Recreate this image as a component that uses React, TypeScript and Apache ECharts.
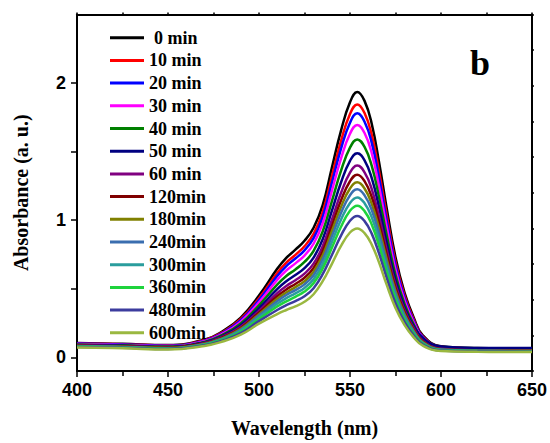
import React, { useEffect, useRef } from 'react';
import * as echarts from 'echarts';

const wavelengths = [400, 425, 450, 470, 480, 490, 500, 510, 515, 520, 525, 530, 535, 540, 545, 550, 554, 558, 562, 566, 570, 575, 580, 585, 590, 600, 620, 650];

const seriesNames = ['0 min', '10 min', '20 min', '30 min', '40 min', '50 min', '60 min', '120min', '180min', '240min', '300min', '360min', '480min', '600min'];
const seriesColors = ['#000000', '#FF0000', '#0000FF', '#FF00FF', '#008000', '#000080', '#800080', '#800000', '#808000', '#3A6EAF', '#2A9D9D', '#1ED33C', '#3C3C9E', '#9AB840'];

const abs0 = [0.105, 0.098, 0.090, 0.128, 0.190, 0.290, 0.450, 0.645, 0.725, 0.785, 0.850, 0.945, 1.110, 1.380, 1.650, 1.860, 1.935, 1.870, 1.700, 1.420, 1.100, 0.730, 0.470, 0.290, 0.160, 0.080, 0.067, 0.066];
const abs10 = [0.102, 0.095, 0.087, 0.124, 0.183, 0.279, 0.431, 0.615, 0.690, 0.747, 0.810, 0.901, 1.059, 1.316, 1.574, 1.774, 1.844, 1.782, 1.620, 1.354, 1.049, 0.696, 0.449, 0.277, 0.153, 0.077, 0.065, 0.063];
const abs20 = [0.100, 0.093, 0.085, 0.121, 0.178, 0.270, 0.418, 0.593, 0.665, 0.720, 0.780, 0.869, 1.023, 1.270, 1.518, 1.711, 1.779, 1.718, 1.562, 1.305, 1.011, 0.672, 0.433, 0.267, 0.148, 0.075, 0.063, 0.062];
const abs30 = [0.097, 0.090, 0.082, 0.117, 0.172, 0.260, 0.400, 0.565, 0.633, 0.685, 0.742, 0.828, 0.976, 1.211, 1.447, 1.630, 1.694, 1.636, 1.487, 1.243, 0.963, 0.640, 0.413, 0.255, 0.142, 0.072, 0.060, 0.059];
const abs40 = [0.094, 0.087, 0.079, 0.112, 0.164, 0.247, 0.379, 0.530, 0.593, 0.641, 0.695, 0.776, 0.917, 1.136, 1.358, 1.529, 1.589, 1.534, 1.394, 1.166, 0.903, 0.601, 0.388, 0.240, 0.134, 0.068, 0.058, 0.056];
const abs50 = [0.090, 0.084, 0.075, 0.108, 0.156, 0.234, 0.358, 0.497, 0.554, 0.600, 0.650, 0.727, 0.861, 1.066, 1.273, 1.433, 1.488, 1.437, 1.305, 1.092, 0.846, 0.564, 0.364, 0.228, 0.140, 0.078, 0.068, 0.067];
const abs60 = [0.087, 0.081, 0.072, 0.104, 0.150, 0.223, 0.339, 0.467, 0.520, 0.562, 0.610, 0.683, 0.810, 1.002, 1.196, 1.347, 1.398, 1.349, 1.225, 1.026, 0.795, 0.530, 0.343, 0.212, 0.120, 0.062, 0.052, 0.051];
const abs120 = [0.085, 0.079, 0.070, 0.101, 0.145, 0.214, 0.326, 0.445, 0.495, 0.535, 0.580, 0.651, 0.774, 0.956, 1.141, 1.284, 1.332, 1.285, 1.167, 0.978, 0.758, 0.506, 0.328, 0.202, 0.115, 0.059, 0.051, 0.049];
const abs180 = [0.083, 0.077, 0.068, 0.098, 0.140, 0.207, 0.314, 0.427, 0.473, 0.512, 0.555, 0.624, 0.743, 0.917, 1.094, 1.231, 1.276, 1.231, 1.117, 0.937, 0.726, 0.485, 0.314, 0.194, 0.110, 0.057, 0.049, 0.047];
const abs240 = [0.081, 0.075, 0.066, 0.096, 0.136, 0.201, 0.304, 0.409, 0.454, 0.490, 0.532, 0.599, 0.714, 0.880, 1.050, 1.182, 1.225, 1.181, 1.072, 0.899, 0.697, 0.466, 0.302, 0.186, 0.106, 0.056, 0.048, 0.046];
const abs300 = [0.079, 0.073, 0.064, 0.093, 0.132, 0.193, 0.292, 0.390, 0.431, 0.466, 0.506, 0.570, 0.681, 0.839, 1.001, 1.126, 1.166, 1.124, 1.020, 0.856, 0.663, 0.444, 0.288, 0.178, 0.102, 0.054, 0.046, 0.044];
const abs360 = [0.078, 0.071, 0.063, 0.091, 0.128, 0.186, 0.279, 0.370, 0.408, 0.441, 0.479, 0.541, 0.648, 0.797, 0.950, 1.069, 1.106, 1.066, 0.967, 0.812, 0.629, 0.422, 0.274, 0.169, 0.098, 0.052, 0.045, 0.043];
const abs480 = [0.075, 0.069, 0.060, 0.087, 0.122, 0.176, 0.264, 0.345, 0.380, 0.410, 0.445, 0.504, 0.606, 0.744, 0.886, 0.996, 1.031, 0.993, 0.900, 0.756, 0.586, 0.394, 0.256, 0.158, 0.092, 0.049, 0.042, 0.041];
const abs600 = [0.072, 0.066, 0.057, 0.083, 0.115, 0.165, 0.245, 0.315, 0.345, 0.372, 0.405, 0.460, 0.555, 0.680, 0.810, 0.910, 0.940, 0.905, 0.820, 0.690, 0.535, 0.360, 0.235, 0.145, 0.085, 0.046, 0.040, 0.038];

const seriesValues = [abs0, abs10, abs20, abs30, abs40, abs50, abs60, abs120, abs180, abs240, abs300, abs360, abs480, abs600];

const xTickLabels = [400, 450, 500, 550, 600, 650];
const yTickLabels = [0, 1, 2];
const yTicks = [0, 0.5, 1, 1.5, 2];

const SERIF = '"Liberation Serif", "Times New Roman", serif';
const SANS = '"Liberation Sans", Arial, sans-serif';

export default function App() {
  const ref = useRef<HTMLDivElement>(null);
  useEffect(() => {
    if (!ref.current) return;
    const chart = echarts.init(ref.current, undefined, { renderer: 'svg' });
    const axisLineStyle = { color: '#000', width: 2 };
    const option: any = {
      animation: false,
      backgroundColor: '#fff',
      grid: { left: 77, right: 17, top: 14.5, bottom: 64, containLabel: false },
      legend: {
        orient: 'vertical',
        left: 110,
        top: 28.7,
        padding: 0,
        itemWidth: 34,
        itemHeight: 18,
        itemGap: 4.7,
        icon: 'path://M0,0H34V3H0Z',
        data: seriesNames,
        formatter: (name: string) => (name === '0 min' ? '{p| }{t|' + name + '}' : '{t|' + name + '}'),
        textStyle: {
          fontFamily: SERIF,
          fontWeight: 'bold',
          fontSize: 18,
          color: '#000',
          rich: {
            p: { width: 5, fontSize: 18 },
            t: { fontFamily: SERIF, fontWeight: 'bold', fontSize: 18, color: '#000' },
          },
        },
      },
      xAxis: [
        {
          type: 'value',
          position: 'bottom',
          min: 400,
          max: 650,
          interval: 50,
          axisLine: { show: true, onZero: false, lineStyle: axisLineStyle },
          axisTick: { show: true, length: 6, lineStyle: { color: '#000', width: 1.5 } },
          minorTick: { show: true, splitNumber: 2, length: 5, lineStyle: { color: '#000', width: 1.5 } },
          axisLabel: {
            margin: 10,
            fontFamily: SANS,
            fontWeight: 'bold',
            fontSize: 18,
            color: '#000',
            customValues: xTickLabels,
          },
          splitLine: { show: false },
          name: 'Wavelength (nm)',
          nameLocation: 'middle',
          nameGap: 47,
          nameTextStyle: { fontFamily: SERIF, fontWeight: 'bold', fontSize: 20, color: '#000' },
        },
        {
          type: 'value',
          position: 'top',
          min: 400,
          max: 650,
          interval: 25,
          axisLine: { show: true, onZero: false, lineStyle: axisLineStyle },
          axisTick: { show: true, length: 2, lineStyle: { color: '#000', width: 1.5 } },
          axisLabel: { show: false },
          splitLine: { show: false },
        },
      ],
      yAxis: [
        {
          type: 'value',
          position: 'left',
          min: -0.1,
          max: 2.5,
          axisLine: { show: true, onZero: false, lineStyle: axisLineStyle },
          axisTick: { show: true, length: 6, lineStyle: { color: '#000', width: 1.5 }, customValues: yTicks },
          axisLabel: {
            margin: 11,
            fontFamily: SANS,
            fontWeight: 'bold',
            fontSize: 18,
            color: '#000',
            customValues: yTickLabels,
          },
          splitLine: { show: false },
          name: 'Absorbance (a. u.)',
          nameLocation: 'middle',
          nameGap: 46,
          nameTextStyle: { fontFamily: SERIF, fontWeight: 'bold', fontSize: 20, color: '#000' },
        },
        {
          type: 'value',
          position: 'right',
          min: 0,
          max: 10,
          interval: 1,
          axisLine: { show: true, onZero: false, lineStyle: axisLineStyle },
          axisTick: { show: true, length: 2, lineStyle: { color: '#000', width: 1.5 } },
          axisLabel: { show: false },
          splitLine: { show: false },
        },
      ],
      graphic: [
        {
          type: 'text',
          left: 470,
          top: 45,
          style: { text: 'b', font: 'bold 36px "Liberation Serif", serif', fill: '#000' },
        },
      ],
      series: seriesNames.map((name, i) => ({
        name,
        type: 'line',
        xAxisIndex: 0,
        yAxisIndex: 0,
        symbol: 'none',
        smooth: 0.45,
        color: seriesColors[i],
        lineStyle: { width: 2.5, color: seriesColors[i] },
        data: wavelengths.map((w, j) => [w, seriesValues[i][j]]),
      })),
    };
    chart.setOption(option);
    return () => chart.dispose();
  }, []);
  return <div ref={ref} style={{ position: 'absolute', left: 0, top: 0, width: 550, height: 443 }} />;
}
